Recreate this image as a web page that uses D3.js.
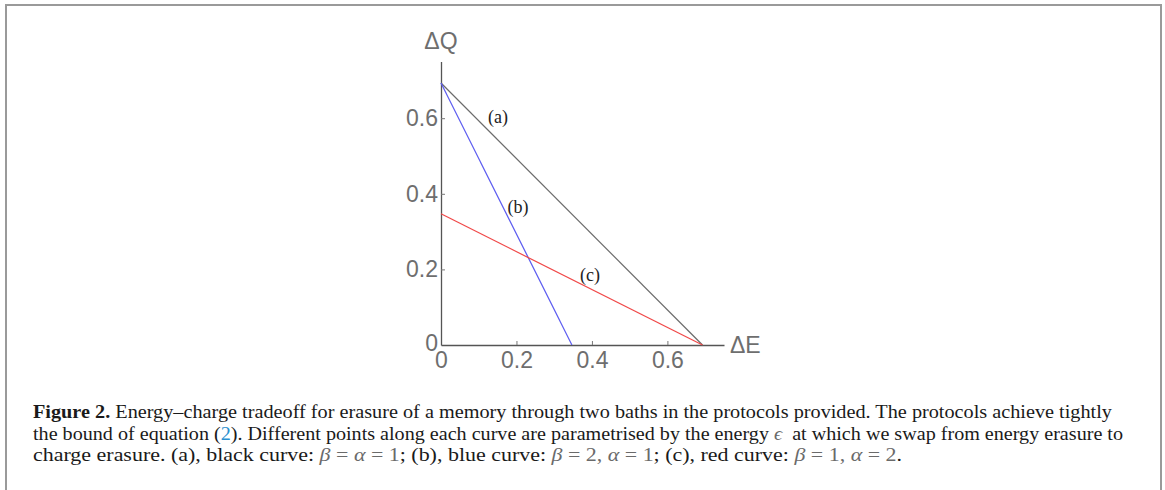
<!DOCTYPE html>
<html>
<head>
<meta charset="utf-8">
<script src="https://cdn.jsdelivr.net/npm/d3@7"></script>
<style>
  body { margin: 0; background: #fff; }
</style>
</head>
<body>
<div id="chart"></div>
<script>
// energy-charge tradeoff, straight lines between the two axis intercepts
var curveNames = ['(a)', '(b)', '(c)']
var curveColors = ['#6b6b6b', '#5b5bf0', '#f04848']
var curveA = [{e: 0, q: 0.693}, {e: 0.693, q: 0}]     // beta = alpha = 1
var curveB = [{e: 0, q: 0.693}, {e: 0.347, q: 0}]     // beta = 2, alpha = 1
var curveC = [{e: 0, q: 0.347}, {e: 0.693, q: 0}]     // beta = 1, alpha = 2
var curves = [curveA, curveB, curveC]
var labelAt = [{e: 0.151, q: 0.603}, {e: 0.204, q: 0.365}, {e: 0.395, q: 0.185}]

var xTicks = [0, 0.2, 0.4, 0.6]
var yTicks = [0, 0.2, 0.4, 0.6]

var W = 1165, H = 490
var sans = '"Liberation Sans", Arial, sans-serif'
var serif = '"Liberation Serif", "Times New Roman", serif'

var svg = d3.select('#chart').append('svg')
  .attr('width', W).attr('height', H)

// page frame (open at the bottom)
svg.append('path')
  .attr('d', 'M6,' + (H + 5) + 'V5H1161V' + (H + 5))
  .attr('fill', 'none')
  .attr('stroke', '#9a9a9a')
  .attr('stroke-width', 2)

var x = d3.scaleLinear().domain([0, 0.75]).range([441, 724])
var y = d3.scaleLinear().domain([0, 0.75]).range([345, 61.5])

var fmt = function(d) { return d === 0 ? '0' : d3.format('.1f')(d) }
var xAxis = d3.axisBottom(x).tickValues(xTicks).tickFormat(fmt)
  .tickSizeInner(-4).tickSizeOuter(0).tickPadding(7)
var yAxis = d3.axisLeft(y).tickValues(yTicks).tickFormat(fmt)
  .tickSizeInner(-4).tickSizeOuter(0).tickPadding(3)

var gx = svg.append('g').attr('transform', 'translate(0,' + y(0) + ')').call(xAxis)
var gy = svg.append('g').attr('transform', 'translate(' + x(0) + ',0)').call(yAxis)

;[gx, gy].forEach(function(g) {
  g.select('.domain').attr('stroke', '#555').attr('stroke-width', 1.3)
  g.selectAll('.tick line').attr('stroke', '#777')
  g.selectAll('.tick text')
    .attr('fill', '#6e6e6e')
    .style('font-family', sans)
    .style('font-size', '23px')
  g.selectAll('.tick line').filter(function(d) { return d === 0 }).remove()
})
gy.selectAll('.tick text').filter(function(d) { return d === 0 }).attr('dy', '0.25em')

// axis names
svg.append('text')
  .attr('x', x(0)).attr('y', 49)
  .attr('text-anchor', 'middle')
  .attr('fill', '#6e6e6e')
  .style('font-family', sans)
  .style('font-size', '23px')
  .text('ΔQ')
svg.append('text')
  .attr('x', 730).attr('y', y(0)).attr('dy', '0.36em')
  .attr('fill', '#6e6e6e')
  .style('font-family', sans)
  .style('font-size', '23px')
  .text('ΔE')

var line = d3.line()
  .x(function(d) { return x(d.e) })
  .y(function(d) { return y(d.q) })

svg.selectAll('path.curve')
  .data(curves)
  .enter().append('path')
  .attr('class', 'curve')
  .attr('d', line)
  .attr('fill', 'none')
  .attr('stroke', function(d, i) { return curveColors[i] })
  .attr('stroke-width', 1.2)

svg.selectAll('text.curve-label')
  .data(labelAt)
  .enter().append('text')
  .attr('class', 'curve-label')
  .attr('x', function(d) { return x(d.e) })
  .attr('y', function(d) { return y(d.q) })
  .attr('dy', '0.35em')
  .attr('text-anchor', 'middle')
  .attr('fill', '#222')
  .style('font-family', serif)
  .style('font-size', '18px')
  .text(function(d, i) { return curveNames[i] })

// caption
var mathFill = '#6a6a6a'
var captionLines = [
  {y: 418, len: 1079, parts: [
    {t: 'Figure 2.', b: true},
    {t: ' Energy–charge tradeoff for erasure of a memory through two baths in the protocols provided. The protocols achieve tightly'}
  ]},
  {y: 439.5, len: 1090, parts: [
    {t: 'the bound of equation ('},
    {t: '2', c: '#2a8fd0'},
    {t: '). Different points along each curve are parametrised by the energy '},
    {t: 'ϵ', i: true, c: mathFill},
    {t: '  at which we swap from energy erasure to'}
  ]},
  {y: 461, len: 869, parts: [
    {t: 'charge erasure. (a), black curve: '},
    {t: 'β', i: true, c: mathFill}, {t: ' = ', c: mathFill},
    {t: 'α', i: true, c: mathFill}, {t: ' = 1', c: mathFill},
    {t: '; (b), blue curve: '},
    {t: 'β', i: true, c: mathFill}, {t: ' = 2, ', c: mathFill},
    {t: 'α', i: true, c: mathFill}, {t: ' = 1', c: mathFill},
    {t: '; (c), red curve: '},
    {t: 'β', i: true, c: mathFill}, {t: ' = 1, ', c: mathFill},
    {t: 'α', i: true, c: mathFill}, {t: ' = 2', c: mathFill},
    {t: '.'}
  ]}
]

captionLines.forEach(function(ln) {
  var t = svg.append('text')
    .attr('x', 33).attr('y', ln.y)
    .attr('textLength', ln.len)
    .attr('lengthAdjust', 'spacingAndGlyphs')
    .attr('fill', '#1a1a1a')
    .attr('xml:space', 'preserve')
    .style('font-family', serif)
    .style('font-size', '19px')
  ln.parts.forEach(function(p) {
    t.append('tspan')
      .attr('font-weight', p.b ? 'bold' : null)
      .attr('font-style', p.i ? 'italic' : null)
      .attr('fill', p.c || null)
      .text(p.t)
  })
})
</script>
</body>
</html>
